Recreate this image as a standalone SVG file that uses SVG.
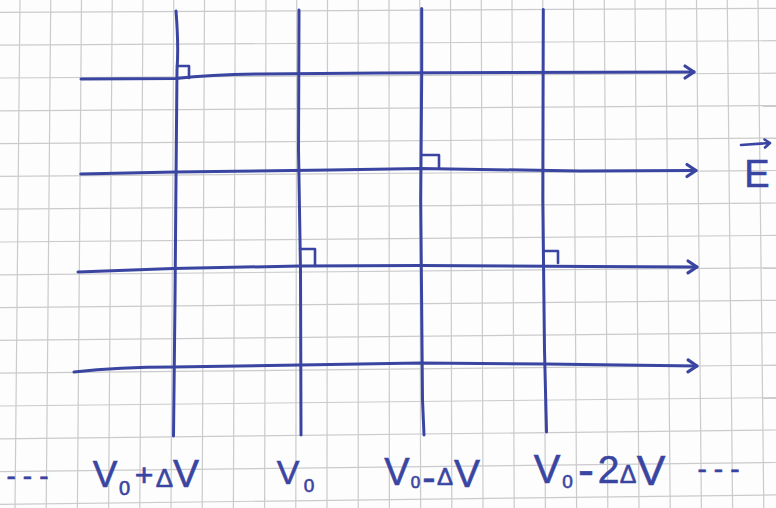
<svg xmlns="http://www.w3.org/2000/svg" width="776" height="508" viewBox="0 0 776 508">
  <style>
    .grid line { stroke: #cbcbce; stroke-width: 1.2; }
    .ink { fill: none; stroke: #3a45a1; stroke-width: 3; stroke-linecap: round; stroke-linejoin: round; }
    .mark { fill: none; stroke: #3a45a1; stroke-width: 2.6; stroke-linecap: round; stroke-linejoin: round; }
    .lbl { font-family: "Liberation Sans", Arial, sans-serif; fill: #3a45a1; stroke: #3a45a1; stroke-width: 0.6; text-anchor: middle; }
  </style>
  <defs>
    <marker id="ah" markerUnits="userSpaceOnUse" orient="auto" refX="0" refY="0" markerWidth="20" markerHeight="20" viewBox="-12 -10 20 20" overflow="visible">
      <path d="M-9,-6 L0,0 L-9,6" fill="none" stroke="#3a45a1" stroke-width="3.2" stroke-linecap="round" stroke-linejoin="round"/>
    </marker>
  </defs>
  <rect width="776" height="508" fill="#fdfdfd"/>
  <g id="grid" class="grid">
    <line x1="20" y1="0" x2="15" y2="508"/>
    <line x1="50.75" y1="0" x2="46.2" y2="508"/>
    <line x1="81.5" y1="0" x2="77.4" y2="508"/>
    <line x1="112.25" y1="0" x2="108.6" y2="508"/>
    <line x1="143" y1="0" x2="139.8" y2="508"/>
    <line x1="173.75" y1="0" x2="171" y2="508"/>
    <line x1="204.5" y1="0" x2="202.2" y2="508"/>
    <line x1="235.25" y1="0" x2="233.4" y2="508"/>
    <line x1="266" y1="0" x2="264.6" y2="508"/>
    <line x1="296.75" y1="0" x2="295.8" y2="508"/>
    <line x1="327.5" y1="0" x2="327" y2="508"/>
    <line x1="358.25" y1="0" x2="358.2" y2="508"/>
    <line x1="389" y1="0" x2="389.4" y2="508"/>
    <line x1="419.75" y1="0" x2="420.6" y2="508"/>
    <line x1="450.5" y1="0" x2="451.8" y2="508"/>
    <line x1="481.25" y1="0" x2="483" y2="508"/>
    <line x1="512" y1="0" x2="514.2" y2="508"/>
    <line x1="542.75" y1="0" x2="545.4" y2="508"/>
    <line x1="573.5" y1="0" x2="576.6" y2="508"/>
    <line x1="604.25" y1="0" x2="607.8" y2="508"/>
    <line x1="635" y1="0" x2="639" y2="508"/>
    <line x1="665.75" y1="0" x2="670.2" y2="508"/>
    <line x1="696.5" y1="0" x2="701.4" y2="508"/>
    <line x1="727.25" y1="0" x2="732.6" y2="508"/>
    <line x1="758" y1="0" x2="763.8" y2="508"/>
    <line x1="0" y1="12.4" x2="776" y2="8.3"/>
    <line x1="0" y1="45.2" x2="776" y2="40.7"/>
    <line x1="0" y1="78" x2="776" y2="73.2"/>
    <line x1="0" y1="110.8" x2="776" y2="105.6"/>
    <line x1="0" y1="143.6" x2="776" y2="138.1"/>
    <line x1="0" y1="176.4" x2="776" y2="170.5"/>
    <line x1="0" y1="209.2" x2="776" y2="203"/>
    <line x1="0" y1="242" x2="776" y2="235.4"/>
    <line x1="0" y1="274.8" x2="776" y2="267.8"/>
    <line x1="0" y1="307.6" x2="776" y2="300.3"/>
    <line x1="0" y1="340.4" x2="776" y2="332.7"/>
    <line x1="0" y1="373.2" x2="776" y2="365.1"/>
    <line x1="0" y1="406" x2="776" y2="397.6"/>
    <line x1="0" y1="438.8" x2="776" y2="430"/>
    <line x1="0" y1="471.6" x2="776" y2="462.5"/>
    <line x1="0" y1="504.4" x2="776" y2="494.9"/>
  </g>
  <g id="equipotentials">
    <path class="ink" d="M176,11 C177.5,30 178.5,50 177,70 L176,180 L175,300 L173.5,436"/>
    <path class="ink" d="M299,10 L298.5,150 L300.5,270 L301,435"/>
    <path class="ink" d="M421.7,8.5 L421.7,73 L420.7,200 L422.5,400 L424,435"/>
    <path class="ink" d="M543.3,9.5 L542.8,200 L544.5,350 L546.5,432"/>
  </g>
  <g id="field-lines">
    <path class="ink" marker-end="url(#ah)" d="M81,79 L176,78.5 C200,76 230,74.5 260,74 L380,73 L694,72"/>
    <path class="ink" marker-end="url(#ah)" d="M80.7,174 L175,172 L330,170 L421,168.5 L580,171 L696,170.5"/>
    <path class="ink" marker-end="url(#ah)" d="M78,272 L173,268.5 L300,266 L420,265.5 L590,266.5 L697,267"/>
    <path class="ink" marker-end="url(#ah)" d="M74,372 C110,368 140,367 173,367 L300,365 L420,363 L545,364 L697,366"/>
  </g>
  <g id="right-angles">
    <path class="mark" d="M177,66 L189,66 L189,78"/>
    <path class="mark" d="M422,155 L439,155 L439,168"/>
    <path class="mark" d="M300,249 L315,249 L315,266"/>
    <path class="mark" d="M544,251 L558,251 L558,263"/>
  </g>
  <g id="field-symbol">
    <path class="mark" d="M741,145 L770,143 M764.5,139.5 L770,143 L765,147.5"/>
    <text class="lbl" x="757" y="187" font-size="38">E</text>
  </g>
  <g id="labels">
    <text class="lbl" font-size="28" letter-spacing="7" x="31" y="484.5">---</text>
    <text class="lbl"><tspan x="105" y="487" font-size="37">V</tspan><tspan x="124.5" y="495" font-size="20">0</tspan><tspan x="144" y="486" font-size="32">+</tspan><tspan x="164.5" y="487" font-size="26">Δ</tspan><tspan x="186" y="487" font-size="39">V</tspan></text>
    <text class="lbl"><tspan x="288" y="484" font-size="34">V</tspan><tspan x="309" y="492" font-size="19">0</tspan></text>
    <text class="lbl"><tspan x="397" y="485" font-size="38">V</tspan><tspan x="415.5" y="488" font-size="17">0</tspan><tspan x="429" y="491" font-size="40">-</tspan><tspan x="445" y="485" font-size="24">Δ</tspan><tspan x="467" y="487" font-size="39">V</tspan></text>
    <text class="lbl"><tspan x="547" y="483" font-size="40">V</tspan><tspan x="567.5" y="488" font-size="19">0</tspan><tspan x="586" y="486" font-size="48">-</tspan><tspan x="608.5" y="483" font-size="39">2</tspan><tspan x="628" y="483" font-size="25">Δ</tspan><tspan x="651" y="485" font-size="43">V</tspan></text>
    <text class="lbl" font-size="28" letter-spacing="7" x="722" y="477.5">---</text>
  </g>
</svg>
